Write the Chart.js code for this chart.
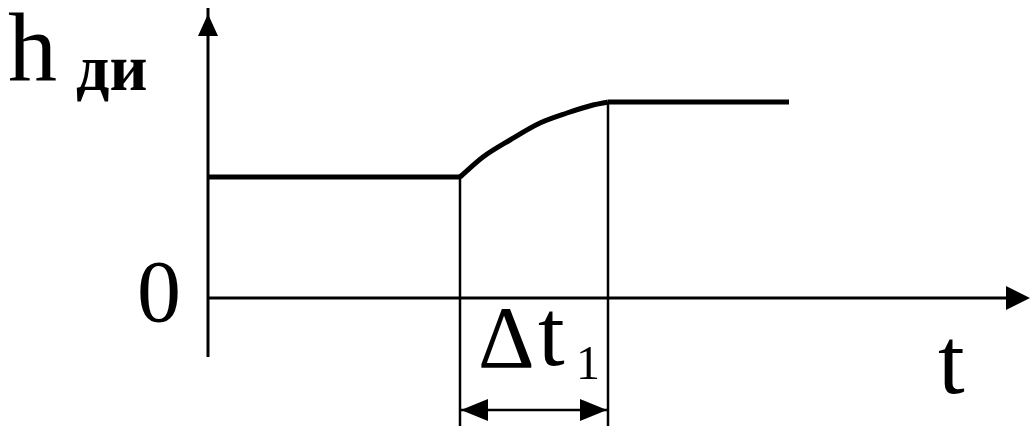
<!DOCTYPE html>
<html>
<head>
<meta charset="utf-8">
<script src="https://cdn.jsdelivr.net/npm/chart.js@4.4.1/dist/chart.umd.min.js"></script>
<style>
  body { margin: 0; background: #fff; }
  #wrap { position: relative; width: 1030px; height: 426px; }
  canvas { display: block; }
  .lbl {
    position: absolute;
    font-family: "Liberation Serif", "Times New Roman", serif;
    line-height: 1;
    white-space: nowrap;
    color: #000;
  }
</style>
</head>
<body>
<div id="wrap">
  <canvas id="myChart" width="1030" height="426"></canvas>
</div>
<script>
// values in chart units (t to the right, h up), origin where the axes cross
var lowT = [0, 25.2];
var lowH = [12.1, 12.1];
var riseT = [25.2, 27.5, 30.2, 33.2, 35.9, 38.5, 40];
var riseH = [12.1, 14.1, 15.8, 17.5, 18.5, 19.3, 19.6];
var highT = [40, 58.1];
var highH = [19.6, 19.6];
var deltaStart = 25.2;
var deltaEnd = 40;
var axisTMax = 82.2;
var axisHMin = -5.9;
var axisHMax = 29;
var dimH = -11.2;

function pts(ts, hs) {
  return ts.map(function (t, i) { return { x: t, y: hs[i] }; });
}

function arrowHead(c, tipX, tipY, dirX, dirY, len, half) {
  var bx = tipX - dirX * len, by = tipY - dirY * len;
  c.beginPath();
  c.moveTo(tipX, tipY);
  c.lineTo(bx - dirY * half, by + dirX * half);
  c.lineTo(bx + dirY * half, by - dirX * half);
  c.closePath();
  c.fill();
}

// text label placed by its left edge and baseline
function label(text, left, baseline, size, bold) {
  var s = document.createElement("span");
  s.className = "lbl";
  s.textContent = text;
  s.style.fontSize = size + "px";
  if (bold) s.style.fontWeight = "bold";
  s.style.left = left + "px";
  s.style.top = (baseline - 0.8375 * size) + "px";
  document.getElementById("wrap").appendChild(s);
}

var sketch = {
  id: "sketch",
  afterDraw: function (chart) {
    var c = chart.ctx;
    var xs = chart.scales.x, ys = chart.scales.y;
    var x0 = xs.getPixelForValue(0), y0 = ys.getPixelForValue(0);
    c.save();
    c.strokeStyle = "#000";
    c.fillStyle = "#000";
    c.lineWidth = 3;

    // axes
    c.beginPath();
    c.moveTo(x0, ys.getPixelForValue(axisHMin));
    c.lineTo(x0, ys.getPixelForValue(axisHMax));
    c.moveTo(x0, y0);
    c.lineTo(xs.getPixelForValue(axisTMax) - 4, y0);
    c.stroke();
    arrowHead(c, x0, ys.getPixelForValue(axisHMax) + 6, 0, -1, 22, 10);
    arrowHead(c, xs.getPixelForValue(axisTMax), y0, 1, 0, 24, 12);

    // dimension arrow for delta t
    var a = xs.getPixelForValue(deltaStart), b = xs.getPixelForValue(deltaEnd);
    var yd = ys.getPixelForValue(dimH);
    c.lineWidth = 2.5;
    c.beginPath();
    c.moveTo(a, yd);
    c.lineTo(b, yd);
    c.stroke();
    arrowHead(c, a + 1, yd, -1, 0, 27, 11);
    arrowHead(c, b - 1, yd, 1, 0, 27, 11);
    c.restore();
  },
};

var ctx = document.getElementById("myChart").getContext("2d");
var myChart = new Chart(ctx, {
  type: "line",
  data: {
    datasets: [
      { data: pts(lowT, lowH), borderColor: "#000", borderWidth: 5, pointRadius: 0 },
      { data: pts(riseT, riseH), borderColor: "#000", borderWidth: 5, pointRadius: 0, cubicInterpolationMode: "monotone" },
      { data: pts(highT, highH), borderColor: "#000", borderWidth: 5, pointRadius: 0 },
      { data: [{ x: deltaStart, y: lowH[1] }, { x: deltaStart, y: -12.8 }], borderColor: "#000", borderWidth: 2.5, pointRadius: 0 },
      { data: [{ x: deltaEnd, y: highH[0] }, { x: deltaEnd, y: -12.8 }], borderColor: "#000", borderWidth: 2.5, pointRadius: 0 },
    ],
  },
  options: {
    responsive: false,
    animation: false,
    layout: { padding: 0 },
    plugins: { legend: { display: false }, tooltip: { enabled: false } },
    scales: {
      x: { type: "linear", min: -20.8, max: 82.2, display: false },
      y: { type: "linear", min: -12.8, max: 29.8, display: false },
    },
  },
  plugins: [sketch],
});

var xs = myChart.scales.x, ys = myChart.scales.y;
var ax = xs.getPixelForValue(deltaStart), y0 = ys.getPixelForValue(0);
var yd = ys.getPixelForValue(dimH);
label("h", 8, 80, 98);
label("ди", 76, 90, 66, true);
label("0", 137, y0 + 24, 88);
label("t", 938, 393, 96);
label("\u0394", ax + 18, yd - 42, 88);
label("t", ax + 78, yd - 45, 96);
label("1", ax + 116, yd - 31, 48);
</script>
</body>
</html>
